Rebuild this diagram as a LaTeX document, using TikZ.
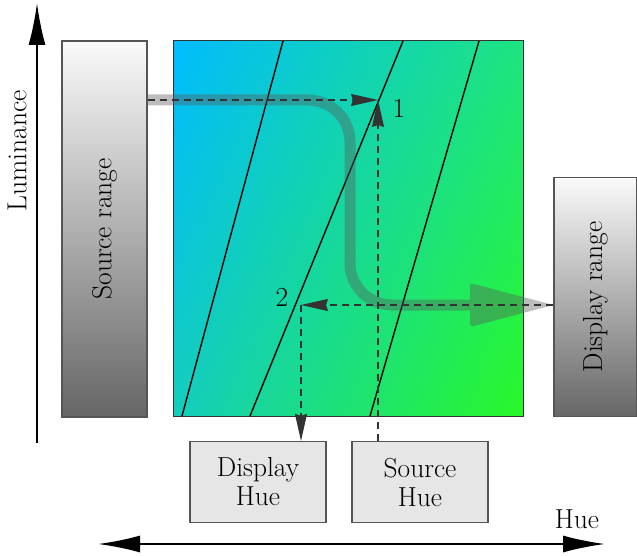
\documentclass[tikz,border=0pt]{standalone}
\usetikzlibrary{arrows.meta,shadings}

\definecolor{edgegray}{HTML}{555555}
\definecolor{dashgray}{HTML}{333333}
\definecolor{boxfill}{HTML}{E6E6E6}
\definecolor{rangedark}{HTML}{666666}
\definecolor{planeUL}{RGB}{0,188,255}
\definecolor{planeUR}{RGB}{30,228,128}
\definecolor{planeLL}{RGB}{20,205,190}
\definecolor{planeLR}{RGB}{40,248,40}
\definecolor{flowgray}{HTML}{595959}

\tikzset{
  txt/.style={font=\rmfamily\fontsize{27.5}{29}\selectfont},
  rangebox/.style={draw=edgegray, line width=1.2pt, rotate=90,
    top color=white!98!black, bottom color=rangedark, txt, inner sep=0pt},
  huebox/.style={draw=edgegray, line width=1.2pt, fill=boxfill, txt,
    align=center, minimum width=136pt, minimum height=81pt, inner sep=0pt},
  guide/.style={draw=dashgray, line width=1.3pt, dash pattern=on 7pt off 5pt},
  guidetip/.style={-{Stealth[length=27pt,width=12pt,inset=2pt]}},
  axis/.style={line width=2pt, black},
  axistip/.tip={Latex[length=42pt,width=17pt]},
  slope/.style={black, line width=1.4pt},
  flow/.style={flowgray, opacity=0.4},
}

\begin{document}
\begin{tikzpicture}[x=1pt,y=-1pt]
\useasboundingbox (0,0) rectangle (637,556);

% luminance axis
\coordinate (lumB) at (37,443);
\coordinate (lumT) at (37,3);
\draw[axis, -{axistip}] (lumB) -- (lumT);
\node[txt, rotate=90] (lumlab) at (17,151) {Luminance};

% hue axis
\coordinate (hueL) at (98,544);
\coordinate (hueR) at (605,544);
\draw[axis, {axistip}-{axistip}] (hueL) -- (hueR);
\node[txt] (huelab) at (577,519) {Hue};

% hue / luminance plane
\node[draw=black!80, line width=1pt, minimum width=350pt, minimum height=375pt,
      inner sep=0pt, upper left=planeUL, upper right=planeUR,
      lower left=planeLL, lower right=planeLR] (plane) at (348,228.5) {};

% lines of constant display hue
\draw[slope] (283,41) -- (182,416);
\draw[slope] (403,41) -- (250,416);
\draw[slope] (479,41) -- (370,416);

% source and display luminance ranges
\node[rangebox, minimum width=376pt, minimum height=85pt] (src) at (104.5,229) {Source range};
\node[rangebox, minimum width=239pt, minimum height=83pt] (dst) at (595.5,297) {Display range};

% hue boxes
\node[huebox] (dhue) at (258,482) {Display\\Hue};
\node[huebox] (shue) at (420,482) {Source\\Hue};

% mapping points
\coordinate (p1) at (378,100);
\coordinate (p2) at (301,305);
\node[txt] (n1) at (399,108) {1};
\node[txt] (n2) at (282,297) {2};

% mapping flow (translucent band with head)
\coordinate (flowS) at (src.south |- p1);
\coordinate (flowH) at (470,305);
\coordinate (flowT) at (dst.north |- p2);
\draw[flow, line width=11pt, rounded corners=42pt]
  (flowS) -- (350,100) -- (350,305) -- (flowH);
\fill[flow, rounded corners=3pt] ([yshift=-22pt]flowH) -- (flowT) -- ([yshift=22pt]flowH) -- cycle;

% dashed guide lines
\draw[guide, guidetip] (flowS) -- (p1);
\draw[guide, guidetip] (shue.north -| p1) -- (p1);
\draw[guide, guidetip] (flowT) -- (p2);
\draw[guide, guidetip] (p2) -- (dhue.north -| p2);
\end{tikzpicture}
\end{document}
